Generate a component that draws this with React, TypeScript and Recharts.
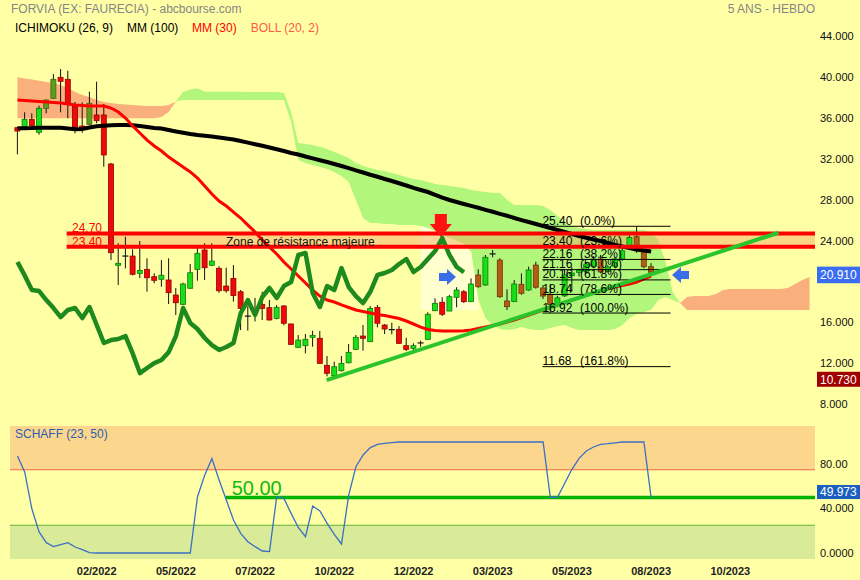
import {
  ComposedChart,
  Area,
  Bar,
  Line,
  XAxis,
  YAxis,
  ReferenceArea,
  ReferenceLine,
  ReferenceDot,
} from 'recharts'

const FONT = 'Arial, "Liberation Sans", sans-serif'
const BG = '#ffffa6'

// weekly candles, oldest first
const opens = [
  35.04, 35.13, 35.86, 34.59, 36.93, 37.91, 39.96, 39.77, 37.13, 35.2,
  35.37, 36.28, 36.28, 31.49, 21.59, 22.49, 22.49, 20.8, 21.19, 20.47,
  20.22, 20.15, 18.68, 17.77, 19.34, 21.19, 23.08, 21.59, 21.29, 19.56,
  20.31, 19.0, 16.62, 17.12, 17.77, 17.44, 16.4, 17.61, 15.85, 13.57,
  13.73, 14.55, 14.45, 11.81, 10.79, 11.28, 12.06, 13.37, 14.67, 14.12,
  17.48, 15.75, 15.3, 15.33, 13.73, 13.47, 13.9, 14.35, 17.15, 17.97,
  17.12, 18.46, 19.0, 18.03, 20.64, 19.66, 22.6, 22.1, 18.1, 18.03,
  19.73, 19.17, 21.61, 19.37, 18.73, 17.8, 18.6, 20.6, 20.9, 21.0,
  21.5, 22.2, 21.0, 21.5, 22.2, 23.4, 24.38, 22.9, 21.45,
]
const highs = [
  35.13, 36.54, 36.44, 37.19, 37.8, 40.28, 40.77, 40.6, 37.55, 37.5,
  38.56, 39.53, 37.35, 31.6, 23.74, 24.38, 23.15, 23.96, 22.27, 20.8,
  22.1, 22.27, 19.37, 19.88, 21.71, 23.47, 23.74, 23.74, 21.5, 21.35,
  21.61, 19.17, 17.6, 18.4, 19.0, 18.19, 17.7, 17.7, 15.9, 14.77,
  14.87, 15.19, 15.16, 12.72, 12.16, 12.72, 13.89, 14.77, 15.75, 17.61,
  17.71, 15.85, 15.97, 15.65, 14.51, 13.96, 14.22, 17.0, 18.36, 18.46,
  18.68, 19.44, 19.17, 20.31, 21.19, 22.59, 23.08, 22.27, 19.24, 20.15,
  20.8, 21.45, 21.94, 19.66, 19.76, 18.6, 21.22, 21.4, 21.25, 21.9,
  22.5, 22.6, 21.6, 22.4, 23.4, 24.5, 25.4, 23.1, 21.8,
]
const lows = [
  32.44, 35.0, 35.1, 34.35, 36.44, 37.85, 36.54, 35.96, 34.49, 34.55,
  35.3, 35.47, 31.22, 22.1, 19.66, 21.29, 20.6, 20.34, 19.0, 19.83,
  19.49, 17.8, 16.73, 17.7, 19.3, 20.08, 20.15, 21.5, 18.91, 18.91,
  18.03, 15.26, 15.2, 16.1, 16.24, 16.2, 16.3, 15.73, 13.8, 13.5,
  12.98, 13.63, 11.95, 10.73, 10.75, 11.2, 12.0, 13.3, 13.24, 14.1,
  15.52, 14.87, 14.84, 13.9, 13.21, 13.3, 13.63, 14.3, 17.1, 16.63,
  17.1, 17.48, 17.9, 18.0, 19.4, 19.6, 22.37, 18.4, 17.22, 18.0,
  18.7, 19.1, 19.3, 18.3, 16.92, 17.5, 18.5, 19.0, 20.5, 20.8,
  21.3, 20.8, 20.9, 21.3, 22.0, 23.3, 22.8, 21.3, 20.8,
]
const closes = [
  34.71, 35.86, 35.23, 36.93, 37.74, 39.77, 39.57, 37.42, 35.1, 35.0,
  37.42, 35.72, 32.37, 22.82, 21.78, 22.49, 20.71, 21.08, 20.37, 20.12,
  20.61, 18.91, 17.93, 19.76, 20.86, 22.76, 21.35, 22.0, 19.1, 19.1,
  18.63, 17.38, 16.6, 17.1, 17.38, 16.24, 17.48, 15.92, 13.86, 14.28,
  14.35, 14.74, 12.0, 11.03, 11.67, 12.0, 13.08, 14.55, 14.45, 17.38,
  15.92, 15.36, 15.26, 13.96, 13.37, 13.73, 14.0, 16.8, 17.87, 16.8,
  18.52, 19.17, 18.03, 19.76, 19.49, 22.37, 22.7, 18.52, 17.54, 19.76,
  18.85, 21.13, 19.44, 18.58, 17.75, 18.4, 20.64, 20.83, 21.13, 21.71,
  22.2, 20.93, 21.42, 22.2, 23.0, 24.3, 23.0, 21.45, 20.91,
]

const mm100 = [
  34.98, 34.99, 35.0, 35.03, 35.03, 35.04, 35.04, 34.96, 34.89, 34.91,
  35.06, 35.17, 35.23, 35.28, 35.3, 35.3, 35.28, 35.2, 35.11, 35.01,
  34.96, 34.81, 34.67, 34.54, 34.42, 34.32, 34.24, 34.17, 34.08, 33.98,
  33.88, 33.74, 33.58, 33.42, 33.27, 33.1, 32.93, 32.76, 32.56, 32.42,
  32.22, 32.04, 31.86, 31.68, 31.49, 31.29, 31.08, 30.86, 30.66, 30.44,
  30.24, 30.02, 29.83, 29.61, 29.39, 29.16, 28.95, 28.75, 28.48, 28.21,
  27.97, 27.77, 27.58, 27.4, 27.21, 27.01, 26.82, 26.62, 26.43, 26.21,
  26.01, 25.82, 25.62, 25.43, 25.23, 25.04, 24.84, 24.65, 24.45, 24.28,
  24.11, 23.96, 23.77, 23.57, 23.42, 23.28, 23.13, 23.03, 22.94,
]
const mm30 = [
  37.74, 37.7, 37.65, 37.6, 37.55, 37.5, 37.45, 37.35, 37.26, 37.21,
  37.16, 37.16, 37.16, 36.96, 36.57, 35.98, 35.2, 34.52, 33.83, 33.25,
  32.76, 32.17, 31.68, 31.19, 30.71, 30.12, 29.34, 28.56, 27.87, 27.38,
  26.79, 26.21, 25.52, 24.84, 24.06, 23.37, 22.69, 21.91, 21.22, 20.54,
  19.86, 19.17, 18.58, 18.19, 18.0, 17.71, 17.46, 17.22, 17.07, 16.92,
  16.78, 16.68, 16.53, 16.39, 16.14, 15.85, 15.55, 15.31, 15.21, 15.16,
  15.16, 15.16, 15.18, 15.26, 15.41, 15.55, 15.7, 15.85, 16.04, 16.24,
  16.48, 16.73, 16.97, 17.22, 17.46, 17.71, 17.95, 18.19, 18.44, 18.68,
  18.88, 19.07, 19.27, 19.46, 19.61, 19.76, 19.95, 20.25, 20.54,
]
// lagging span: stops 26 weeks before the last candle
const chikou = [
  21.91, 20.6, 19.17, 19.07, 18.19, 17.41, 16.53, 17.22, 17.41, 16.43,
  17.51, 15.75, 13.99, 14.28, 14.38, 14.67, 12.97, 11.05, 11.55, 12.03,
  12.33, 13.1, 14.67, 17.41, 15.94, 15.36, 14.48, 13.79, 13.31, 13.6,
  13.99, 16.92, 18.19, 16.73, 18.49, 19.37, 18.39, 19.56, 19.95, 22.59,
  22.79, 18.88, 17.51, 19.56, 19.17, 21.32, 19.46, 18.58, 17.9, 19.0,
  20.64, 20.83, 21.13, 21.71, 22.2, 20.93, 21.42, 22.2, 22.98, 24.25,
  22.59, 21.42, 20.91,
]
// cloud spans, projected past the last candle
const senkouA = [
  35.96, 35.96, 35.96, 35.96, 35.96, 35.96, 35.96, 35.96, 35.96, 35.96,
  35.96, 35.96, 35.96, 35.96, 35.96, 35.96, 35.96, 35.96, 35.96, 35.96,
  36.08, 36.57, 37.6, 38.53, 38.77, 38.89, 38.56, 38.56, 38.56, 38.56,
  38.56, 38.56, 38.53, 38.53, 38.53, 38.53, 38.53, 38.43, 36.57, 33.54,
  33.44, 33.35, 33.15, 32.95, 32.66, 32.37, 32.07, 31.59, 31.29, 31.1,
  30.9, 30.8, 30.61, 30.41, 30.22, 30.02, 29.92, 29.73, 29.53, 29.44,
  29.34, 29.24, 29.14, 28.95, 28.85, 28.75, 28.65, 28.65, 27.97, 27.48,
  27.48, 27.48, 27.48, 27.38, 26.99, 26.4, 25.82, 25.43, 25.23, 25.13,
  25.04, 25.04, 25.04, 25.04, 25.04, 25.04, 25.04, 25.04, 24.84, 24.06,
  21.91, 18.98, 17.9, 17.22, 17.22, 17.22, 17.22, 17.22, 17.22, 17.22,
  17.22, 17.22, 17.22, 17.22, 17.22, 17.22, 17.22, 17.22, 17.22, 17.22,
  17.22,
]
const senkouB = [
  39.96, 39.85, 39.75, 39.63, 39.5, 39.41, 39.21, 38.92, 38.53, 38.23,
  38.04, 37.74, 37.55, 37.45, 37.35, 37.3, 37.26, 37.21, 37.16, 37.16,
  37.16, 37.26, 37.6, 37.74, 37.74, 37.74, 37.74, 37.74, 37.74, 37.74,
  37.74, 37.74, 37.74, 37.74, 37.74, 37.74, 37.74, 37.74, 35.59, 31.88,
  31.59, 31.39, 31.19, 31.0, 30.71, 30.32, 29.73, 27.97, 26.21, 25.72,
  25.72, 25.62, 25.62, 25.52, 25.52, 25.52, 25.43, 25.23, 24.94, 24.55,
  24.25, 23.96, 23.67, 22.89, 18.19, 16.43, 15.75, 15.36, 15.26, 15.36,
  15.55, 15.36, 15.26, 15.26, 15.46, 15.65, 15.75, 15.46, 15.26, 15.26,
  15.26, 15.26, 15.26, 15.36, 15.75, 16.43, 16.83, 17.02, 17.22, 18.19,
  18.49, 18.19, 17.9, 18.49, 18.58, 18.58, 18.58, 18.78, 19.17, 19.27,
  19.27, 19.27, 19.27, 19.27, 19.27, 19.27, 19.27, 19.37, 19.76, 20.15,
  20.44,
]
// pale pocket under the cloud around 01/2023
const POCKET_FROM = 56
const POCKET_TO = 64
const POCKET_FLOOR = 17.22

const schaff = [
  87.4, 73, 39.6, 19, 9.3, 5.7, 7.5, 9.3, 5.4, 3,
  0.3, 0, 0, 0, 0, 0, 0, 0, 0, 0,
  0, 0, 0, 0, 0, 50.7, 70, 85, 65.8, 47.7,
  29.7, 17.7, 10.2, 5.7, 1.8, 1.2, 50.7, 49.2, 35.7, 23,
  14.7, 42.3, 37.8, 26.7, 16.8, 8.1, 52.2, 77.7, 88.3, 94.9,
  97.9, 98.8, 99.5, 100, 100, 100, 100, 100, 100, 100,
  100, 100, 100, 100, 100, 100, 100, 100, 100, 100,
  100, 100, 100, 100, 50.2, 50.2, 62.8, 75.4, 85.3, 91.9,
  95.5, 97.9, 98.5, 99.3, 100, 100, 100, 100, 49.973,
]

const dateTicks = [11, 22, 33, 44, 55, 66, 77, 88, 99]
const dateLabels = ['02/2022', '05/2022', '07/2022', '10/2022', '12/2022', '03/2023', '05/2023', '08/2023', '10/2023']
// 20 sits under the last-close tag, so it is left out
const priceTicks = [8, 12, 16, 24, 28, 32, 36, 40, 44]
const schaffTicks = [0, 40, 80]
const schaffTickText: Record<number, string> = { 0: '0.0000', 40: '40.000', 80: '80.00' }

const zoneHigh = 24.7
const zoneLow = 23.4

const fibLevels = [25.4, 23.4, 22.16, 21.16, 20.16, 18.74, 16.92, 11.68]
const fibRatios = ['0.0%', '23.6%', '38.2%', '50.0%', '61.8%', '78.6%', '100.0%', '161.8%']

const trendStart = { x: 42.94, y: 10.37 }
const trendEnd = { x: 105.67, y: 24.77 }

const schaffUpper = 75
const schaffLower = 25
const schaffMid = 50

const X_DOMAIN: [number, number] = [-1.04, 110.76]
const PRICE_DOMAIN: [number, number] = [6.661, 45.564]
const SCHAFF_DOMAIN: [number, number] = [-5.41, 114.41]

const lastClose = closes[closes.length - 1]
const periodLow = Math.min(...lows)
const lastSchaff = schaff[schaff.length - 1]

const rows = senkouA.map((a, i) => {
  const b = senkouB[i]
  const row: any = {
    i,
    bull: a >= b ? [b, a] : null,
    bear: a <= b ? [a, b] : null,
    pocket: i >= POCKET_FROM && i <= POCKET_TO ? [POCKET_FLOOR, b] : null,
    chikou: i < chikou.length ? chikou[i] : null,
  }
  if (i < closes.length) {
    row.range = [lows[i], highs[i]]
    row.open = opens[i]
    row.close = closes[i]
    row.high = highs[i]
    row.low = lows[i]
    row.a = a
    row.b = b
    row.mm100 = mm100[i]
    row.mm30 = mm30[i]
    row.schaff = schaff[i]
  }
  return row
})

const UP = { fill: '#19df19', edge: '#0a7a0a' }
const DOWN = { fill: '#ee0a0a', edge: '#950000' }
const UP_IN_BEAR = { fill: '#5f9c1e', edge: '#3c6810' }
const DOWN_IN_BULL = { fill: '#b25c16', edge: '#733508' }

// bodies sitting inside the cloud pick up its tint
function candleColor(p: any) {
  const mid = (p.open + p.close) / 2
  const inside = mid > Math.min(p.a, p.b) && mid < Math.max(p.a, p.b)
  if (p.close >= p.open) return inside && p.a < p.b ? UP_IN_BEAR : UP
  return inside && p.a > p.b ? DOWN_IN_BULL : DOWN
}

function Candle(props: any) {
  const p = props.payload ?? props
  const { x, y, width, height } = props
  if (p == null || p.open == null || !height || !isFinite(height)) return null
  const k = height / (p.high - p.low)
  const py = (v: number) => y + (p.high - v) * k
  const cx = x + width / 2
  const top = py(Math.max(p.open, p.close))
  const bot = py(Math.min(p.open, p.close))
  const c = candleColor(p)
  return (
    <g>
      <line x1={cx} x2={cx} y1={y} y2={y + height} stroke="#111" strokeWidth={1} />
      {bot - top < 1.2 ? (
        <line x1={x - 0.5} x2={x + width + 0.5} y1={top} y2={top} stroke="#111" strokeWidth={1.2} />
      ) : (
        <rect x={x} y={top} width={width} height={bot - top} fill={c.fill} stroke={c.edge} strokeWidth={0.8} />
      )}
    </g>
  )
}

function PriceTag({ cx, cy, text, fill, dy, h, base }: any) {
  return (
    <g>
      <rect x={cx + 2} y={cy + dy} width={43} height={h} fill={fill} />
      <text x={cx + 5} y={cy + dy + base} fill="#fff" fontSize={12} fontFamily={FONT}>
        {text}
      </text>
    </g>
  )
}

function FibText({ cx, cy, level, ratio }: any) {
  return (
    <text x={cx} y={cy - 1.5} fontSize={12} fontFamily={FONT} fill="#000">
      {level.toFixed(2)}
      <tspan x={cx + 37.5}>({ratio})</tspan>
    </text>
  )
}

function DownArrow({ cx, cy }: any) {
  const pts = [
    [cx - 6, cy - 23], [cx + 6, cy - 23], [cx + 6, cy - 13], [cx + 11, cy - 13],
    [cx, cy], [cx - 11, cy - 13], [cx - 6, cy - 13],
  ]
  return <polygon points={pts.map((q) => q.join(',')).join(' ')} fill="#ff1212" />
}

// dir 1 points right, -1 points left; (cx, cy) is the tip
function SideArrow({ cx, cy, dir }: any) {
  const pts = [
    [cx, cy], [cx - dir * 9, cy - 8], [cx - dir * 9, cy - 4], [cx - dir * 17, cy - 4],
    [cx - dir * 17, cy + 4], [cx - dir * 9, cy + 4], [cx - dir * 9, cy + 8],
  ]
  return <polygon points={pts.map((q) => q.join(',')).join(' ')} fill="#3a6ee8" />
}

const tickFont = { fontSize: 11, fill: '#111', fontFamily: FONT }

export default function App() {
  return (
    <div style={{ position: 'absolute', left: 0, top: 0, width: 860, height: 580, background: BG, overflow: 'hidden' }}>
      <div style={{ position: 'absolute', left: 0, top: 0 }}>
        <ComposedChart width={860} height={420} data={rows} margin={{ top: 20, right: 0, bottom: 2, left: 10 }}>
          <XAxis type="number" dataKey="i" domain={X_DOMAIN} allowDataOverflow hide />
          <YAxis
            orientation="right"
            width={45}
            domain={PRICE_DOMAIN}
            allowDataOverflow
            ticks={priceTicks}
            interval={0}
            tickFormatter={(v: number) => v.toFixed(3)}
            axisLine={false}
            tickLine={false}
            tickSize={0}
            tickMargin={5}
            tick={tickFont}
          />
          <Area dataKey="bear" type="linear" stroke="none" fill="#f9b07c" fillOpacity={1} isAnimationActive={false} />
          <Area dataKey="bull" type="linear" stroke="none" fill="#b2f67c" fillOpacity={1} isAnimationActive={false} />
          <Area dataKey="pocket" type="linear" stroke="none" fill="#ffffcf" fillOpacity={1} isAnimationActive={false} />
          <ReferenceArea
            x1={6.83}
            x2={X_DOMAIN[1]}
            y1={zoneLow}
            y2={zoneHigh}
            fill="#f6a45c"
            fillOpacity={0.45}
            ifOverflow="visible"
          />
          <Bar dataKey="range" barSize={5} shape={<Candle />} isAnimationActive={false} />
          <Line dataKey="mm100" type="linear" stroke="#000" strokeWidth={4} dot={false} isAnimationActive={false} />
          <Line dataKey="mm30" type="linear" stroke="#ff0000" strokeWidth={3} dot={false} isAnimationActive={false} />
          <Line
            dataKey="chikou"
            type="linear"
            stroke="#1e8a1e"
            strokeWidth={4.5}
            strokeLinejoin="round"
            dot={false}
            isAnimationActive={false}
          />

          {fibLevels.map((lvl) => (
            <ReferenceLine
              key={'fl' + lvl}
              segment={[{ x: 72.9, y: lvl }, { x: 90.7, y: lvl }]}
              stroke="#000"
              strokeWidth={1}
              ifOverflow="visible"
            />
          ))}
          {fibLevels.map((lvl, k) => (
            <ReferenceDot
              key={'ft' + lvl}
              x={72.9}
              y={lvl}
              r={0}
              ifOverflow="visible"
              shape={(p: any) => <FibText cx={p.cx} cy={p.cy} level={lvl} ratio={fibRatios[k]} />}
            />
          ))}

          <ReferenceLine
            segment={[{ x: 6.83, y: zoneHigh }, { x: X_DOMAIN[1], y: zoneHigh }]}
            stroke="#ff0000"
            strokeWidth={4}
            ifOverflow="visible"
          />
          <ReferenceLine
            segment={[{ x: 6.83, y: zoneLow }, { x: X_DOMAIN[1], y: zoneLow }]}
            stroke="#ff0000"
            strokeWidth={4}
            ifOverflow="visible"
          />
          <ReferenceLine
            segment={[trendStart, trendEnd]}
            stroke="#2bc52b"
            strokeWidth={4}
            ifOverflow="visible"
          />

          <ReferenceDot
            x={7.57}
            y={zoneHigh}
            r={0}
            ifOverflow="visible"
            shape={(p: any) => (
              <text x={p.cx} y={p.cy - 1} fontSize={12} fontFamily={FONT} fill="#ff0000">
                {zoneHigh.toFixed(2)}
              </text>
            )}
          />
          <ReferenceDot
            x={7.57}
            y={zoneLow}
            r={0}
            ifOverflow="visible"
            shape={(p: any) => (
              <text x={p.cx} y={p.cy - 0.5} fontSize={12} fontFamily={FONT} fill="#ff0000">
                {zoneLow.toFixed(2)}
              </text>
            )}
          />
          <ReferenceDot
            x={28.96}
            y={zoneLow}
            r={0}
            ifOverflow="visible"
            shape={(p: any) => (
              <text x={p.cx} y={p.cy - 1} fontSize={12} fontFamily={FONT} fill="#111">
                Zone de résistance majeure
              </text>
            )}
          />

          <ReferenceDot x={58.8} y={24.36} r={0} ifOverflow="visible" shape={(p: any) => <DownArrow cx={p.cx} cy={p.cy} />} />
          <ReferenceDot x={60.9} y={20.44} r={0} ifOverflow="visible" shape={(p: any) => <SideArrow cx={p.cx} cy={p.cy} dir={1} />} />
          <ReferenceDot x={90.9} y={20.64} r={0} ifOverflow="visible" shape={(p: any) => <SideArrow cx={p.cx} cy={p.cy} dir={-1} />} />

          <ReferenceDot
            x={X_DOMAIN[1]}
            y={lastClose}
            r={0}
            ifOverflow="visible"
            shape={(p: any) => (
              <PriceTag cx={p.cx} cy={p.cy} text={lastClose.toFixed(3)} fill="#3a6df0" dy={-5.6} h={16.6} base={12.6} />
            )}
          />
          <ReferenceDot
            x={X_DOMAIN[1]}
            y={periodLow}
            r={0}
            ifOverflow="visible"
            shape={(p: any) => (
              <PriceTag cx={p.cx} cy={p.cy} text={periodLow.toFixed(3)} fill="#a00000" dy={-4.6} h={15} base={11.8} />
            )}
          />
        </ComposedChart>
      </div>

      <div style={{ position: 'absolute', left: 0, top: 420 }}>
        <ComposedChart width={860} height={160} data={rows} margin={{ top: 6, right: 0, bottom: 0, left: 10 }}>
          <XAxis
            type="number"
            dataKey="i"
            domain={X_DOMAIN}
            allowDataOverflow
            ticks={dateTicks}
            interval={0}
            tickFormatter={(v: number) => dateLabels[dateTicks.indexOf(v)] ?? ''}
            height={21}
            axisLine={false}
            tickLine={false}
            tickSize={0}
            tickMargin={8}
            tick={{ fontSize: 11, fontWeight: 700, fill: '#222', fontFamily: FONT }}
          />
          <YAxis
            orientation="right"
            width={45}
            domain={SCHAFF_DOMAIN}
            allowDataOverflow
            ticks={schaffTicks}
            interval={0}
            tickFormatter={(v: number) => schaffTickText[v] ?? String(v)}
            axisLine={false}
            tickLine={false}
            tickSize={0}
            tickMargin={5}
            tick={tickFont}
          />
          <ReferenceArea y1={schaffUpper} y2={SCHAFF_DOMAIN[1]} fill="#fdd68e" fillOpacity={1} ifOverflow="visible" />
          <ReferenceArea y1={SCHAFF_DOMAIN[0]} y2={schaffLower} fill="#d9eb98" fillOpacity={1} ifOverflow="visible" />
          <ReferenceLine y={schaffUpper} stroke="#f06a4c" strokeWidth={1} />
          <ReferenceLine y={schaffLower} stroke="#5cb43c" strokeWidth={1} />
          <ReferenceLine
            segment={[{ x: 28.96, y: schaffMid }, { x: X_DOMAIN[1], y: schaffMid }]}
            stroke="#00b400"
            strokeWidth={3.5}
            ifOverflow="visible"
          />
          <Line dataKey="schaff" type="linear" stroke="#3b6fc4" strokeWidth={1.3} dot={false} isAnimationActive={false} />
          <ReferenceDot
            x={29.75}
            y={schaffMid}
            r={0}
            ifOverflow="visible"
            shape={(p: any) => (
              <text x={p.cx} y={p.cy - 2} fontSize={20} fontFamily={FONT} fill="#12b812">
                {schaffMid.toFixed(2)}
              </text>
            )}
          />
          <ReferenceDot
            x={X_DOMAIN[1]}
            y={lastSchaff}
            r={0}
            ifOverflow="visible"
            shape={(p: any) => (
              <PriceTag cx={p.cx} cy={p.cy} text={lastSchaff.toFixed(3)} fill="#1a5fc0" dy={-12.5} h={14} base={11.3} />
            )}
          />
        </ComposedChart>
      </div>

      <svg
        width={860}
        height={580}
        style={{ position: 'absolute', left: 0, top: 0, pointerEvents: 'none' }}
        fontFamily={FONT}
        fontSize={12}
      >
        <text x={11} y={13.3} fill="#858585">FORVIA (EX: FAURECIA) - abcbourse.com</text>
        <text x={815} y={13.3} fill="#858585" textAnchor="end">5 ANS - HEBDO</text>
        <text x={15} y={32} fill="#000">ICHIMOKU (26, 9)</text>
        <text x={127} y={32} fill="#000">MM (100)</text>
        <text x={192} y={32} fill="#ff0000">MM (30)</text>
        <text x={250.7} y={32} fill="#ff5a46">BOLL (20, 2)</text>
        <text x={15} y={437.6} fill="#2a5fb0">SCHAFF (23, 50)</text>
      </svg>
    </div>
  )
}
